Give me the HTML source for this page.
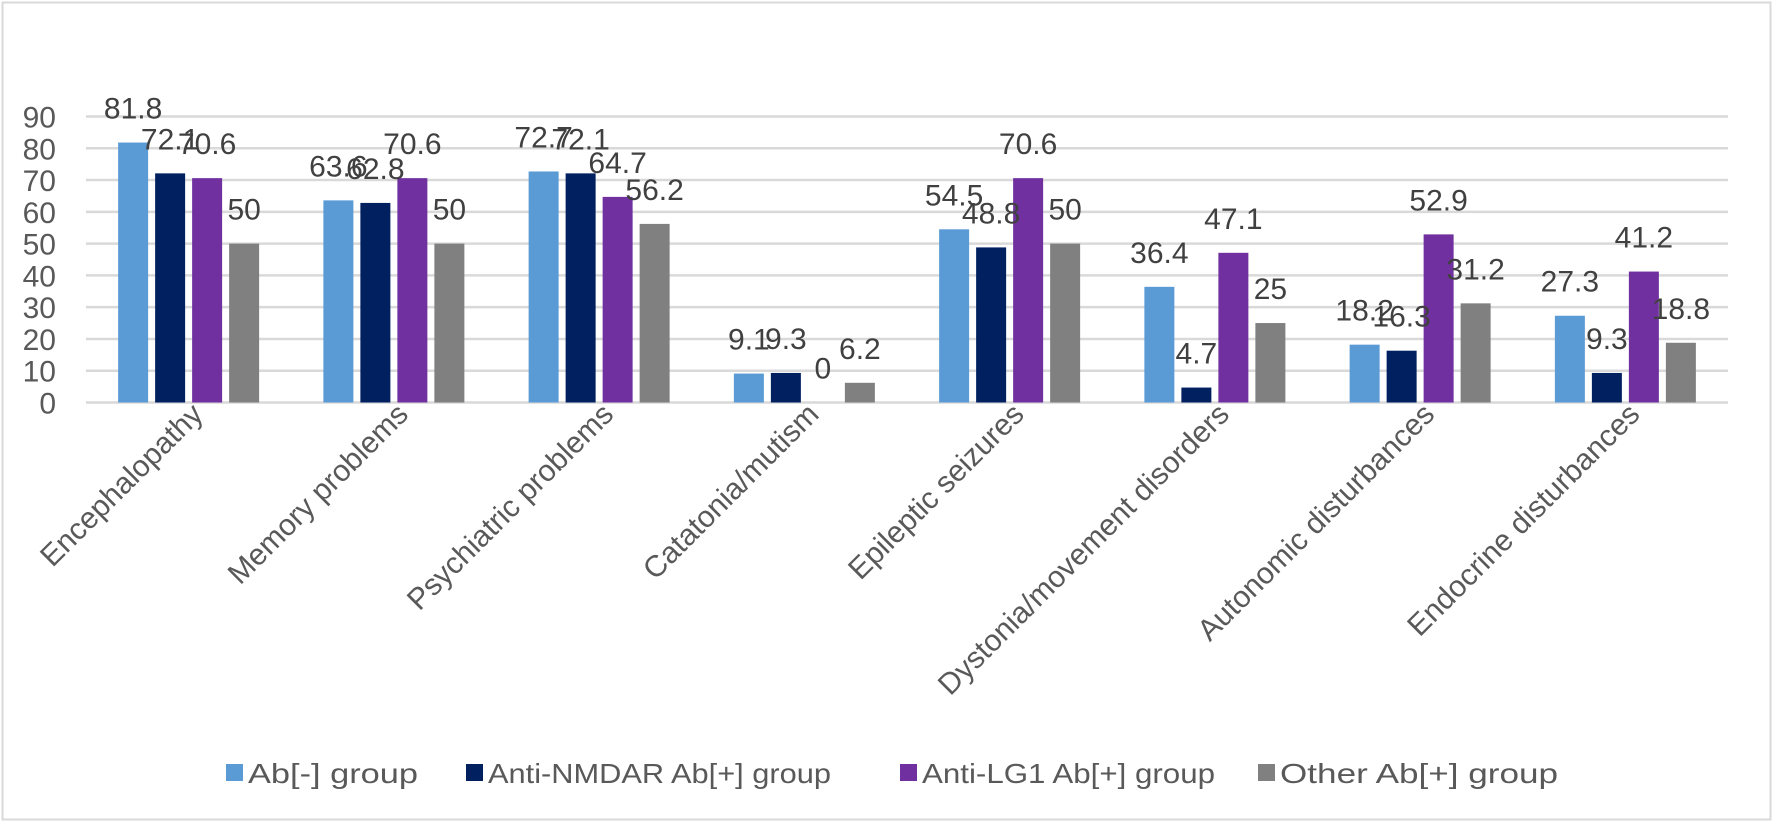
<!DOCTYPE html>
<html><head><meta charset="utf-8"><style>
html,body{margin:0;padding:0;background:#fff;}
svg{display:block;font-family:"Liberation Sans",sans-serif;}
</style></head><body>
<svg id="chart" width="1774" height="825" viewBox="0 0 1774 825">
<rect x="2.5" y="2.5" width="1768" height="817" fill="#fff" stroke="#d9d9d9" stroke-width="2"/>
<g id="grid"></g><g id="bars"></g><g id="labels"></g><g id="yticks"></g><g id="xcats"></g><g id="legend"></g>
</svg>
<script>
const categories = ["Encephalopathy","Memory problems","Psychiatric problems","Catatonia/mutism","Epileptic seizures","Dystonia/movement disorders","Autonomic disturbances","Endocrine disturbances"];
const seriesNames = ["Ab[-] group","Anti-NMDAR Ab[+] group","Anti-LG1 Ab[+] group","Other Ab[+] group"];
const abNeg = [81.8,63.6,72.7,9.1,54.5,36.4,18.2,27.3];
const nmdar = [72.1,62.8,72.1,9.3,48.8,4.7,16.3,9.3];
const lg1 = [70.6,70.6,64.7,0,70.6,47.1,52.9,41.2];
const other = [50,50,56.2,6.2,50,25,31.2,18.8];
const yTicks = [0,10,20,30,40,50,60,70,80,90];
const colors = ["#5b9bd5","#002060","#7030a0","#808080"];
const series = [abNeg,nmdar,lg1,other];
const NS="http://www.w3.org/2000/svg";
const X0=86,X1=1728,Y0=402.5,YPER=3.178;
const groupW=(X1-X0)/categories.length;
const barW=30,pitch=37;
function y(v){return Y0-v*YPER;}
function gx(i){return X0+groupW*(i+0.5);}
function mk(tag,attrs,parent){const e=document.createElementNS(NS,tag);for(const k in attrs)e.setAttribute(k,attrs[k]);document.getElementById(parent).appendChild(e);return e;}
yTicks.forEach(t=>{
  const l=mk("line",{x1:X0,x2:X1,y1:y(t),y2:y(t),stroke:"#d9d9d9","stroke-width":2.5},"grid");
  
  
  const tx=mk("text",{x:56,y:y(t)+11,"text-anchor":"end","font-size":30,fill:"#595959"},"yticks");
  tx.textContent=t;
  
  
});
categories.forEach((c,i)=>{
  series.forEach((s,j)=>{
    const cx=gx(i)+(j-1.5)*pitch;
    const v=s[i];
    const r=mk("rect",{x:cx-barW/2,y:y(v),width:barW,height:v*YPER,fill:colors[j]},"bars");
    
    
    const t=mk("text",{x:cx,y:y(v)-24,"text-anchor":"middle","font-size":30,fill:"#404040"},"labels");
    t.textContent=v;
    
    
  });
  const ex=gx(i)+16,ey=416;
  const t=mk("text",{x:ex,y:ey,"text-anchor":"end","font-size":30,fill:"#595959",transform:`rotate(-45 ${ex} ${ey})`},"xcats");
  t.textContent=c;
  
  
});
const legX=[226,466,900,1258];
const legW=[170,343,293,278];
seriesNames.forEach((n,j)=>{
  const r=mk("rect",{x:legX[j],y:764,width:17,height:17,fill:colors[j]},"legend");
  
  
  const t=mk("text",{x:legX[j]+22,y:783,"font-size":28,fill:"#595959",textLength:legW[j],lengthAdjust:"spacingAndGlyphs"},"legend");
  t.textContent=n;
  
  
});
</script>
</body></html>
